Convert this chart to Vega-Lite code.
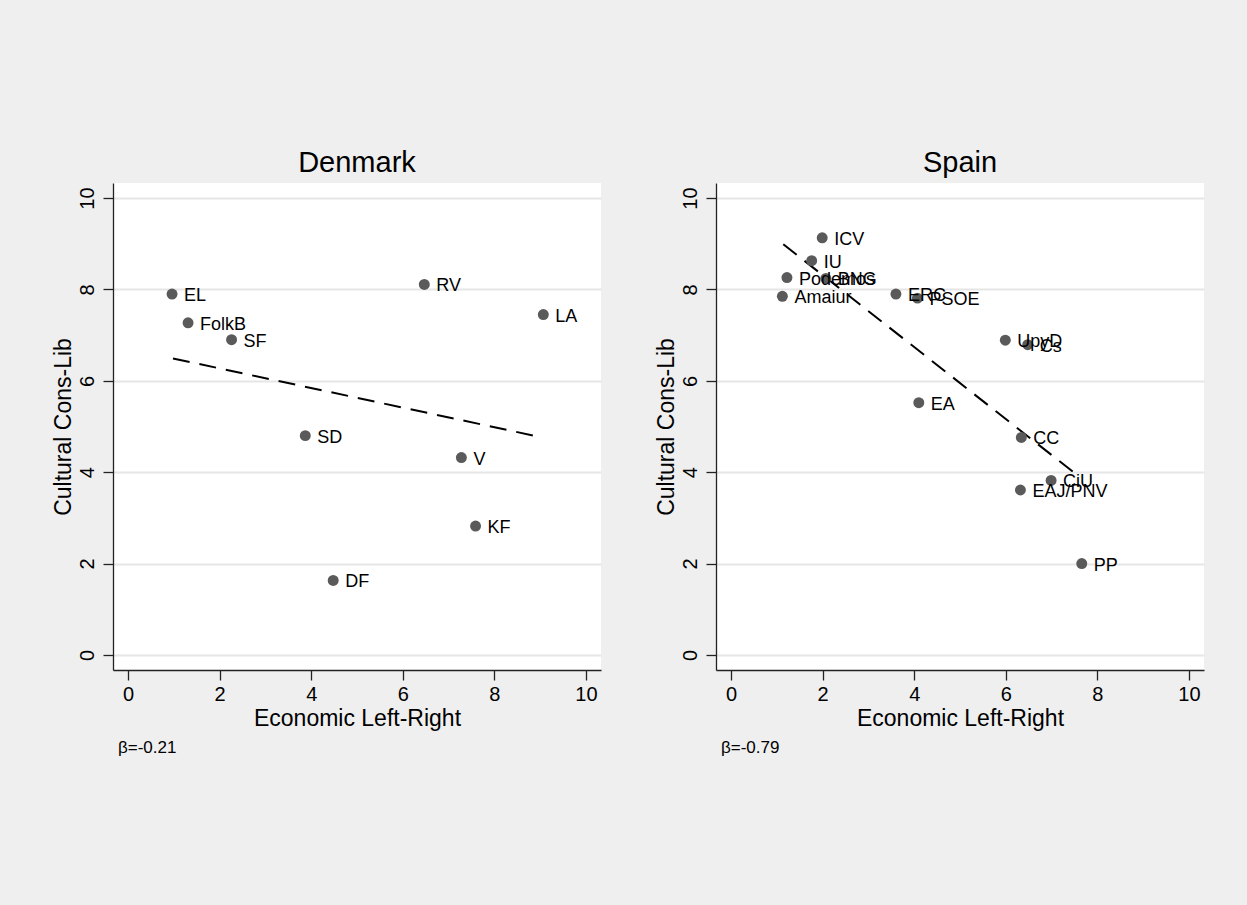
{
  "$schema": "https://vega.github.io/schema/vega-lite/v6.json",
  "background": "#efefef",
  "padding": {"left": 52, "top": 149, "right": 43, "bottom": 150},
  "datasets": {
    "dk_points": [
      {"party": "EL", "econ": 0.96, "cult": 7.90},
      {"party": "FolkB", "econ": 1.31, "cult": 7.27},
      {"party": "SF", "econ": 2.26, "cult": 6.90},
      {"party": "SD", "econ": 3.87, "cult": 4.80},
      {"party": "DF", "econ": 4.48, "cult": 1.63},
      {"party": "RV", "econ": 6.47, "cult": 8.11},
      {"party": "V", "econ": 7.28, "cult": 4.32},
      {"party": "KF", "econ": 7.59, "cult": 2.82},
      {"party": "LA", "econ": 9.07, "cult": 7.45}
    ],
    "dk_fit": [
      {"econ": 0.98, "cult": 6.49},
      {"econ": 9.0, "cult": 4.77}
    ],
    "es_points": [
      {"party": "ICV", "econ": 1.99, "cult": 9.13},
      {"party": "IU", "econ": 1.76, "cult": 8.63},
      {"party": "Podemos", "econ": 1.22, "cult": 8.26},
      {"party": "BNG", "econ": 2.07, "cult": 8.24},
      {"party": "Amaiur", "econ": 1.12, "cult": 7.85},
      {"party": "ERC", "econ": 3.60, "cult": 7.90},
      {"party": "PSOE", "econ": 4.07, "cult": 7.81},
      {"party": "UpyD", "econ": 5.99, "cult": 6.89},
      {"party": "Cs", "econ": 6.48, "cult": 6.79},
      {"party": "EA", "econ": 4.10, "cult": 5.52},
      {"party": "CC", "econ": 6.34, "cult": 4.76},
      {"party": "CiU", "econ": 6.99, "cult": 3.82},
      {"party": "EAJ/PNV", "econ": 6.32, "cult": 3.61},
      {"party": "PP", "econ": 7.66, "cult": 2.00}
    ],
    "es_fit": [
      {"econ": 1.14, "cult": 8.99},
      {"econ": 7.58, "cult": 3.92}
    ]
  },
  "hconcat": [
    {
      "title": {"text": "β=-0.21", "orient": "bottom", "anchor": "start", "frame": "group", "fontSize": 17, "fontWeight": "normal", "offset": 10, "dx": 5},
      "vconcat": [
        {
          "width": 488,
          "height": 487,
          "title": {"text": "Denmark", "fontSize": 29, "fontWeight": "normal", "offset": 5},
          "layer": [
            {
              "data": {"name": "dk_fit"},
              "mark": {"type": "line", "color": "black", "strokeWidth": 2, "strokeDash": [17, 10]},
              "encoding": {
                "x": {"field": "econ", "type": "quantitative", "scale": {"domain": [-0.33, 10.33], "nice": false, "zero": false}, "axis": {"title": "Economic Left-Right", "values": [0, 2, 4, 6, 8, 10]}},
                "y": {"field": "cult", "type": "quantitative", "scale": {"domain": [-0.33, 10.33], "nice": false, "zero": false}, "axis": {"title": "Cultural Cons-Lib", "values": [0, 2, 4, 6, 8, 10]}}
              }
            },
            {
              "data": {"name": "dk_points"},
              "mark": {"type": "circle", "size": 120, "color": "#5a5a5a", "opacity": 1},
              "encoding": {
                "x": {"field": "econ", "type": "quantitative"},
                "y": {"field": "cult", "type": "quantitative"}
              }
            },
            {
              "data": {"name": "dk_points"},
              "mark": {"type": "text", "align": "left", "baseline": "middle", "dx": 12, "dy": 2, "fontSize": 18, "color": "black"},
              "encoding": {
                "x": {"field": "econ", "type": "quantitative"},
                "y": {"field": "cult", "type": "quantitative"},
                "text": {"field": "party"}
              }
            }
          ]
        }
      ]
    },
    {
      "title": {"text": "β=-0.79", "orient": "bottom", "anchor": "start", "frame": "group", "fontSize": 17, "fontWeight": "normal", "offset": 10, "dx": 5},
      "vconcat": [
        {
          "width": 488,
          "height": 487,
          "title": {"text": "Spain", "fontSize": 29, "fontWeight": "normal", "offset": 5},
          "layer": [
            {
              "data": {"name": "es_fit"},
              "mark": {"type": "line", "color": "black", "strokeWidth": 2, "strokeDash": [17, 10]},
              "encoding": {
                "x": {"field": "econ", "type": "quantitative", "scale": {"domain": [-0.33, 10.33], "nice": false, "zero": false}, "axis": {"title": "Economic Left-Right", "values": [0, 2, 4, 6, 8, 10]}},
                "y": {"field": "cult", "type": "quantitative", "scale": {"domain": [-0.33, 10.33], "nice": false, "zero": false}, "axis": {"title": "Cultural Cons-Lib", "values": [0, 2, 4, 6, 8, 10]}}
              }
            },
            {
              "data": {"name": "es_points"},
              "mark": {"type": "circle", "size": 120, "color": "#5a5a5a", "opacity": 1},
              "encoding": {
                "x": {"field": "econ", "type": "quantitative"},
                "y": {"field": "cult", "type": "quantitative"}
              }
            },
            {
              "data": {"name": "es_points"},
              "mark": {"type": "text", "align": "left", "baseline": "middle", "dx": 12, "dy": 2, "fontSize": 18, "color": "black"},
              "encoding": {
                "x": {"field": "econ", "type": "quantitative"},
                "y": {"field": "cult", "type": "quantitative"},
                "text": {"field": "party"}
              }
            }
          ]
        }
      ]
    }
  ],
  "spacing": 54,
  "config": {
    "font": "Liberation Sans",
    "view": {"stroke": null, "fill": "white"},
    "title": {"color": "black", "font": "Liberation Sans"},
    "axis": {
      "domainColor": "#222222",
      "domainWidth": 1.3,
      "tickColor": "#222222",
      "tickWidth": 1.3,
      "tickSize": 10,
      "labelFontSize": 20,
      "labelColor": "black",
      "titleFontSize": 23,
      "titleFontWeight": "normal",
      "titleColor": "black",
      "labelFont": "Liberation Sans",
      "titleFont": "Liberation Sans"
    },
    "axisX": {"grid": false, "labelPadding": 4, "titlePadding": 3},
    "axisY": {"grid": true, "gridColor": "#e6e6e6", "gridWidth": 2, "labelAngle": -90, "labelAlign": "center", "labelBaseline": "bottom", "labelPadding": 6, "titlePadding": 2}
  }
}
